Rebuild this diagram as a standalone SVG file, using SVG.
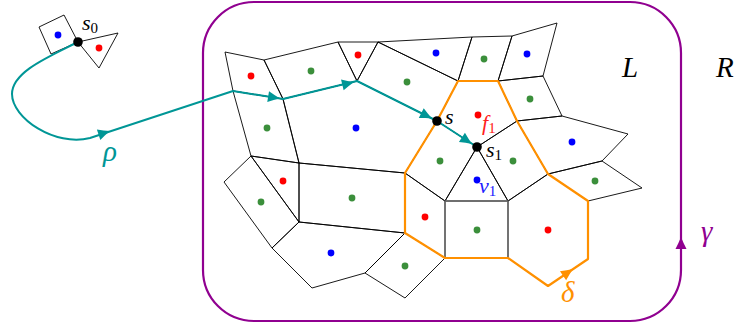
<svg xmlns="http://www.w3.org/2000/svg" xmlns:xlink="http://www.w3.org/1999/xlink" width="738" height="328" viewBox="0 0 738 328">
<style>
.cell{fill:none;stroke:#000;stroke-width:0.9;stroke-linejoin:round}
.sq{fill:none;stroke:#666;stroke-width:1.3}
.r{fill:#ff0000}.b{fill:#0000ff}.g{fill:#3b8f3b}
</style>
<defs>
<path id="ah" d="M0,0 C-4,-1.5 -8,-3.5 -12,-5.5 L-12,5.5 C-8,3.5 -4,1.5 0,0 Z"/>
</defs>
<g id="region-L">
<rect x="203" y="2" width="478" height="319" rx="51" ry="51" fill="none" stroke="#900090" stroke-width="2.2"/>
<use xlink:href="#ah" transform="translate(681,237) rotate(-90)" fill="#900090"/>
</g>
<g id="cell-0a"><polygon class="cell" points="39,27 64,15 78,42 51,54"/><circle class="b" cx="58" cy="35" r="3.4"/></g>
<g id="cell-0b"><polygon class="cell" points="78,42 118,33 99,68"/><circle class="r" cx="99" cy="48" r="3.4"/></g>
<g id="cell-1"><polygon class="cell" points="225,52 264,60 283,99 233,91"/><circle class="r" cx="251" cy="76" r="3.4"/></g>
<g id="cell-2"><polygon class="cell" points="233,91 283,99 299,163 251,156"/><circle class="g" cx="267" cy="128" r="3.4"/></g>
<g id="cell-3"><polygon class="cell" points="264,60 338,42 357,81 283,99"/><circle class="g" cx="311" cy="71" r="3.4"/></g>
<g id="cell-4"><polygon class="cell" points="338,42 378,42 357,81"/><circle class="r" cx="358" cy="55" r="3.4"/></g>
<g id="cell-5"><polygon class="cell" points="283,99 357,81 437,121 405,173 299,163"/><circle class="b" cx="356" cy="128" r="3.4"/></g>
<g id="cell-6"><polygon class="cell" points="357,81 378,42 458,81 437,121"/><circle class="g" cx="407" cy="82" r="3.4"/></g>
<g id="cell-7"><polygon class="cell" points="378,42 472,37 458,81"/><circle class="b" cx="436" cy="53" r="3.4"/></g>
<g id="cell-8"><polygon class="cell" points="472,37 512,36 498,81 458,81"/><circle class="g" cx="484" cy="59" r="3.4"/></g>
<g id="cell-9"><polygon class="cell" points="512,36 557,23 543,76 498,81"/><circle class="b" cx="527" cy="54" r="3.4"/></g>
<g id="cell-f1"><polygon class="cell" points="458,81 498,81 517,121 477,147 437,121"/><circle class="r" cx="478" cy="115" r="3.4"/></g>
<g id="cell-11"><polygon class="cell" points="498,81 543,76 562,116 517,121"/><circle class="g" cx="530" cy="99" r="3.4"/></g>
<g id="cell-12"><polygon class="cell" points="437,121 477,147 445,201 405,173"/><circle class="g" cx="440" cy="161" r="3.4"/></g>
<g id="cell-13"><polygon class="cell" points="477,147 517,121 548,174 508,201"/><circle class="g" cx="513" cy="161" r="3.4"/></g>
<g id="cell-v1"><polygon class="cell" points="477,147 508,201 445,201"/><circle class="b" cx="477" cy="180" r="3.4"/></g>
<g id="cell-15"><polygon class="cell" points="517,121 562,116 628,134 602,161 548,174"/><circle class="b" cx="572" cy="142" r="3.4"/></g>
<g id="cell-16"><polygon class="cell" points="548,174 602,161 642,188 588,201"/><circle class="g" cx="595" cy="181" r="3.4"/></g>
<g id="cell-17"><polygon class="cell" points="405,173 445,201 445,258 405,233"/><circle class="r" cx="425" cy="217" r="3.4"/></g>
<g id="cell-19"><polygon class="cell" points="508,201 548,174 588,201 588,259 548,286 508,258"/><circle class="r" cx="548" cy="230" r="3.4"/></g>
<g id="cell-20"><polygon class="cell" points="251,156 299,163 299,222"/><circle class="r" cx="283" cy="181" r="3.4"/></g>
<g id="cell-21"><polygon class="cell" points="251,156 299,222 272,248 224,182"/><circle class="g" cx="261" cy="202" r="3.4"/></g>
<g id="cell-22"><polygon class="cell" points="299,163 405,173 405,233 299,222"/><circle class="g" cx="352" cy="198" r="3.4"/></g>
<g id="cell-23"><polygon class="cell" points="299,222 405,233 365,273 312,288 272,248"/><circle class="b" cx="331" cy="253" r="3.4"/></g>
<g id="cell-24"><polygon class="cell" points="365,273 405,233 445,258 405,298"/><circle class="g" cx="405" cy="266" r="3.4"/></g>
<g id="cell-18"><polygon class="sq" points="445,201 508,201 508,258 445,258"/><circle class="g" cx="477" cy="230" r="3.4"/></g>
<g id="connectors">
<polygon points="458,81 498,81 517,121 548,174 588,201 588,259 548,286 508,258 445,258 405,233 405,173 437,121" fill="none" stroke="#ff9000" stroke-width="2.2" stroke-linejoin="round"/>
<use xlink:href="#ah" transform="translate(573,269) rotate(-34)" fill="#ff9000"/>
<path d="M78,42 C48,57 12,72 12,94 C12,118 55,147 90,138 L233,91 L283,99 L357,81 L437,121 L477,147" fill="none" stroke="#009696" stroke-width="2" stroke-linejoin="round"/>
<use xlink:href="#ah" transform="translate(110,131) rotate(-18.2)" fill="#009696"/>
<use xlink:href="#ah" transform="translate(280,98.5) rotate(9.1)" fill="#009696"/>
<use xlink:href="#ah" transform="translate(354,82) rotate(-13.7)" fill="#009696"/>
<use xlink:href="#ah" transform="translate(432,118.5) rotate(26.6)" fill="#009696"/>
<use xlink:href="#ah" transform="translate(472,144) rotate(33)" fill="#009696"/>
</g>
<g id="points">
<circle cx="78" cy="42" r="4.8" fill="#000"/>
<circle cx="437" cy="121" r="4.8" fill="#000"/>
<circle cx="477" cy="147" r="4.8" fill="#000"/>
</g>
<g id="labels" font-family="Liberation Serif, Times New Roman, serif" font-style="italic" font-size="22">
<text x="82" y="30">s<tspan font-style="normal" font-size="15" dy="3">0</tspan></text>
<text x="445" y="124">s</text>
<text x="486" y="157">s<tspan font-style="normal" font-size="15" dy="3">1</tspan></text>
<text x="482" y="130" fill="#ff2020">f<tspan font-style="normal" font-size="15" dy="3">1</tspan></text>
<text x="479" y="193" fill="#2020ff">v<tspan font-style="normal" font-size="15" dy="3">1</tspan></text>
<text x="103" y="161" font-size="29" fill="#009696">ρ</text>
<text x="561" y="302" font-size="29" fill="#ff9000">δ</text>
<text x="701" y="241" font-size="29" fill="#900090">γ</text>
<text x="622" y="77" font-size="29">L</text>
<text x="716" y="77" font-size="29">R</text>
</g>
</svg>
